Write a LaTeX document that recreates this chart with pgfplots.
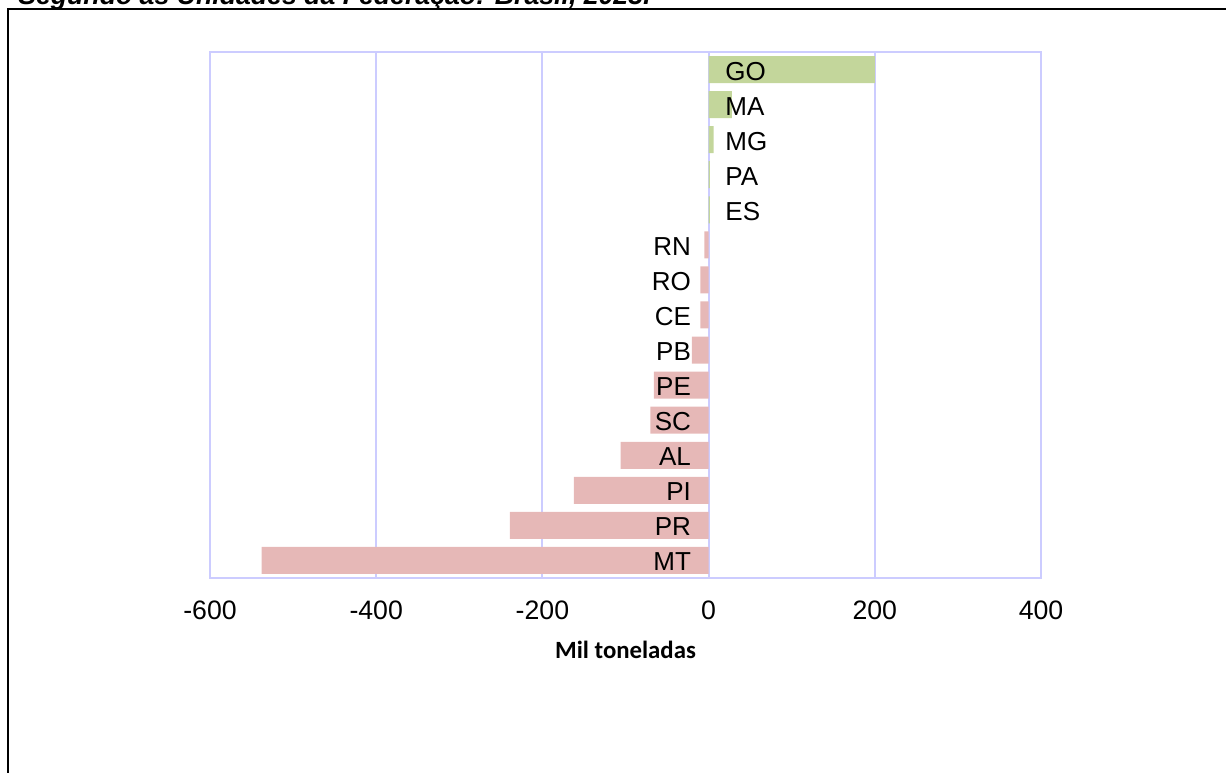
\documentclass[border=0pt]{standalone}
\usepackage{fontspec}
\setmainfont{Liberation Sans}
\newfontfamily\calibri{Carlito}
\usepackage{pgfplots}
\pgfplotsset{compat=1.18}
\definecolor{gridc}{RGB}{204,204,255}
\definecolor{posc}{RGB}{195,214,155}
\definecolor{negc}{RGB}{230,184,183}
\begin{document}
\begin{tikzpicture}
\path[use as bounding box] (0pt,0pt) rectangle (919.5pt,579.75pt);
\draw[black, line width=1.5pt] (5.625pt,0pt) -- (5.625pt,572.85pt) -- (919.5pt,572.85pt);
\node[anchor=base west, inner sep=0, font=\fontsize{20}{22}\selectfont\bfseries\itshape] at (13.5pt,576.6pt) {Segundo as Unidades da Federação: Brasil, 2023.};
\begin{axis}[at={(157.5pt,146.25pt)}, anchor=south west, scale only axis,
  width=623.25pt, height=394.5pt,
  xmin=-600, xmax=400, ymin=0.5, ymax=15.5, y dir=reverse,
  xtick={-600,-400,-200,0,200,400}, xticklabels={-600,-400,-200,0,200,400},
  ytick=\empty, major tick length=0pt,
  xmajorgrids, grid style={gridc, line width=1.5pt},
  axis line style={gridc, line width=1.5pt},
  xticklabel style={font=\fontsize{20}{22}\selectfont, yshift=-14pt},
  xlabel={\calibri\bfseries Mil toneladas},
  xlabel style={font=\fontsize{18.6}{20}\selectfont, at={(axis description cs:0.5,0)}, anchor=base, yshift=-60pt},
  xbar, bar width=0.77, bar shift=0pt,
  clip=false]
\addplot[draw=none, fill=posc] coordinates {(200,1) (28,2) (6,3) (1.5,4) (1.5,5)};
\addplot[draw=none, fill=negc] coordinates {(-5,6) (-10,7) (-10,8) (-20,9) (-66,10) (-70,11) (-106,12) (-162,13) (-239,14) (-538,15)};
\begin{scope}[every node/.style={inner sep=0, font=\fontsize{19.5}{22}\selectfont}]
\node[anchor=base west] at (axis cs:20,1.3) {GO};
\node[anchor=base west] at (axis cs:20,2.3) {MA};
\node[anchor=base west] at (axis cs:20,3.3) {MG};
\node[anchor=base west] at (axis cs:20,4.3) {PA};
\node[anchor=base west] at (axis cs:20,5.3) {ES};
\node[anchor=base east] at (axis cs:-21,6.3) {RN};
\node[anchor=base east] at (axis cs:-21,7.3) {RO};
\node[anchor=base east] at (axis cs:-21,8.3) {CE};
\node[anchor=base east] at (axis cs:-21,9.3) {PB};
\node[anchor=base east] at (axis cs:-21,10.3) {PE};
\node[anchor=base east] at (axis cs:-21,11.3) {SC};
\node[anchor=base east] at (axis cs:-21,12.3) {AL};
\node[anchor=base east] at (axis cs:-21,13.3) {PI};
\node[anchor=base east] at (axis cs:-21,14.3) {PR};
\node[anchor=base east] at (axis cs:-21,15.3) {MT};
\end{scope}
\end{axis}
\end{tikzpicture}
\end{document}
